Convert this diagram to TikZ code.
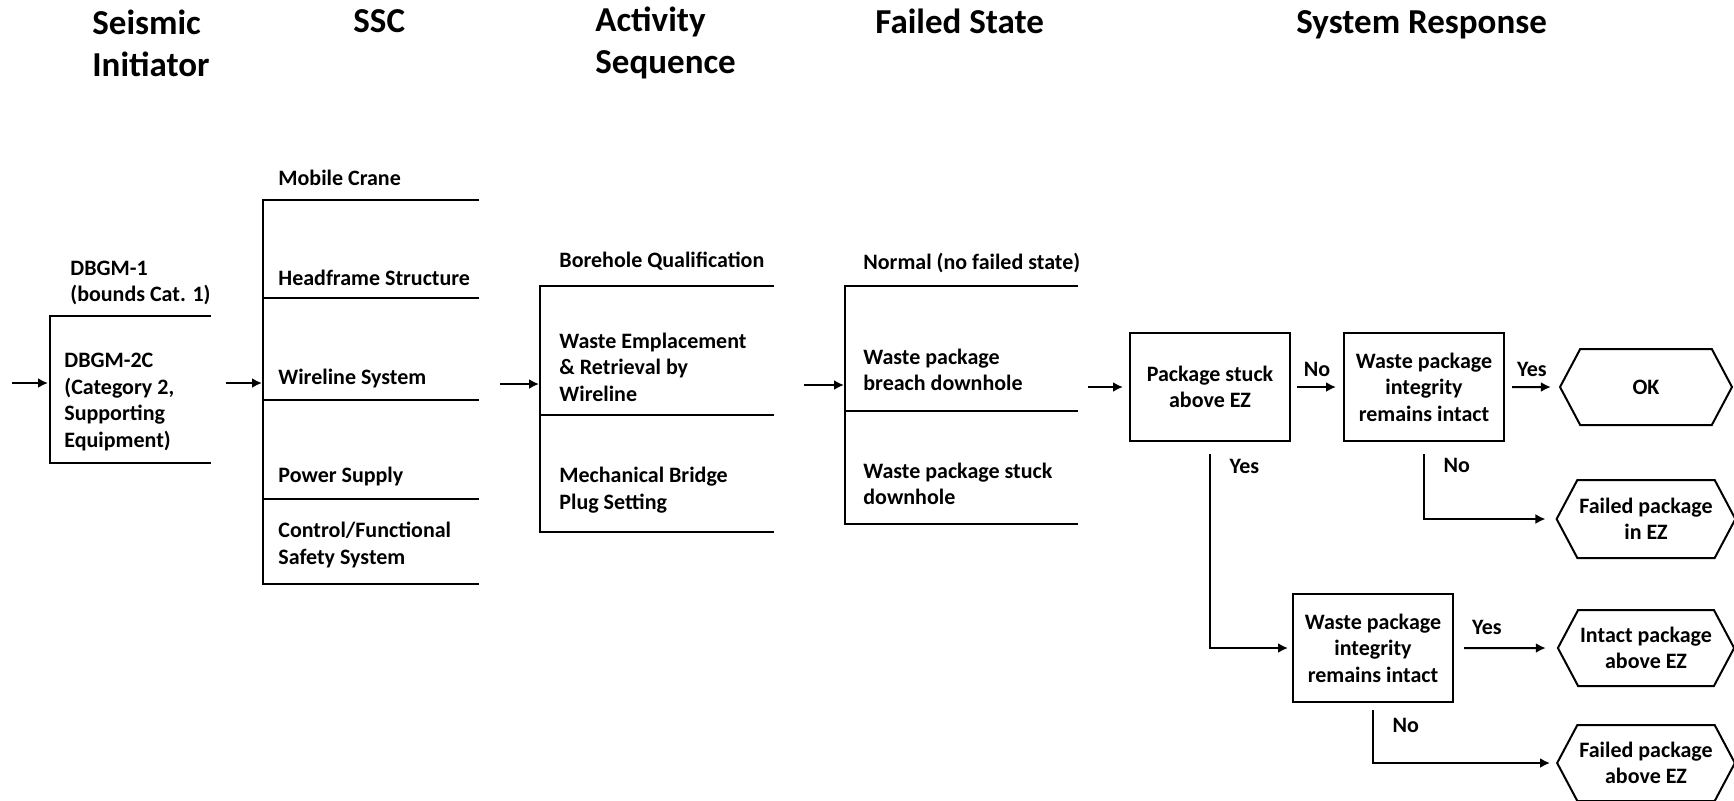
\documentclass[tikz,border=0pt]{standalone}
\usepackage{fontspec}
\setmainfont{Carlito}
\usetikzlibrary{arrows.meta,positioning,shapes.symbols}

\begin{document}
\begin{tikzpicture}[x=0.5pt, y=-0.5pt, font=\bfseries\fontsize{11}{13.25}\selectfont,
  hd/.style={anchor=west, inner sep=0pt, align=left, font=\bfseries\fontsize{17.5}{21}\selectfont},
  txt/.style={anchor=west, inner sep=0pt, align=left},
  ln/.style={line width=1pt},
  box/.style={draw, line width=1pt, align=center, minimum width=80pt, minimum height=54pt, inner sep=2pt},
  hx/.style={draw, line width=1pt, align=center, signal, signal to=west and east, signal pointer angle=124, minimum width=86pt, minimum height=38pt, inner sep=1pt},
  e/.style={-{Latex[length=5pt,width=5pt]}, line width=1pt}]
\useasboundingbox (0,0) rectangle (1734,800);

\node[hd] (hsi) at (92,43) {Seismic\\Initiator};
\node[hd, anchor=base west] (hssc) at (353,32) {SSC};
\node[hd] (hact) at (595,43) {Activity\\Sequence};
\node[hd, anchor=base west] (hfs) at (875,33) {Failed State};
\node[hd, anchor=base west] (hsr) at (1296,33) {System Response};

\node[txt] (dbgm1) at (70,283) {DBGM-1\\(bounds Cat. 1)};
\node[txt] (dbgm2) at (64,402) {DBGM-2C\\(Category 2,\\Supporting\\Equipment)};

\node[txt] (crane) at (278,178) {Mobile Crane};
\node[txt] (head) at (278,278) {Headframe Structure};
\node[txt] (wire) at (278,378) {Wireline System};
\node[txt] (power) at (278,476) {Power Supply};
\node[txt] (ctrl) at (278,545) {Control/Functional\\Safety System};

\node[txt] (bore) at (559,261) {Borehole Qualification};
\node[txt] (empl) at (559,367) {Waste Emplacement\\\& Retrieval by\\Wireline};
\node[txt] (plug) at (559,490) {Mechanical Bridge\\Plug Setting};

\node[txt] (norm) at (863,263) {Normal (no failed state)};
\node[txt] (breach) at (863,370) {Waste package\\breach downhole};
\node[txt] (stuck) at (863,484) {Waste package stuck\\downhole};

\draw[ln] (211,316) -| (50,463) -- (211,463);
\draw[ln] (479,200) -| (263,584) -- (479,584);
\foreach \y in {298,400,499}
  \draw[ln] (263,\y) -- (479,\y);
\draw[ln] (774,286) -| (540,532) -- (774,532);
\draw[ln] (540,415) -- (774,415);
\draw[ln] (1078,286) -| (845,524) -- (1078,524);
\draw[ln] (845,411) -- (1078,411);

\coordinate (in0) at (12,383);
\coordinate (in1) at (48,383);
\coordinate (out1) at (226,383);
\coordinate (in2) at (262,383);
\coordinate (out2) at (500,384);
\coordinate (in3) at (539,384);
\coordinate (out3) at (804,385);
\coordinate (in4) at (844,385);
\coordinate (out4) at (1088,387);

\node[box] (stuckEZ) at (1210,387) {Package stuck\\above EZ};
\node[box] (integ1) at (1424,387) {Waste package\\integrity\\remains intact};
\node[box] (integ2) at (1373,648) {Waste package\\integrity\\remains intact};
\node[hx] (ok) at (1646,387) {OK};
\node[hx, minimum height=39pt] (failEZ) at (1646,519) {Failed package\\in EZ};
\node[hx] (intact) at (1646,648) {Intact package\\above EZ};
\node[hx] (failAb) at (1646,763) {Failed package\\above EZ};

\draw[e] (in0) -- (in1);
\draw[e] (out1) -- (in2);
\draw[e] (out2) -- (in3);
\draw[e] (out3) -- (in4);
\draw[e, shorten >=3pt] (out4) -- (stuckEZ);
\draw[e, shorten <=3pt, shorten >=3.5pt] (stuckEZ) -- node[above=1.5pt] (lno1) {No} (integ1);
\draw[e, shorten <=3.5pt, shorten >=4pt] (integ1) -- node[above=1.5pt] (lyes1) {Yes} (ok);
\draw[e, shorten <=6pt, shorten >=2pt] (stuckEZ.south) |- node[pos=0.06, right=6pt] (lyes2) {Yes} (integ2.west);
\draw[e, shorten <=6pt, shorten >=5pt] (integ1.south) |- node[pos=0.15, right=6pt] (lno2) {No} (failEZ.west);
\draw[e, shorten <=5pt, shorten >=5.5pt] (integ2) -- node[pos=0.32, above=3pt] (lyes3) {Yes} (intact);
\draw[e, shorten <=3.5pt, shorten >=3pt] (integ2.south) |- node[pos=0.19, right=6pt] (lno3) {No} (failAb.west);
\end{tikzpicture}
\end{document}
